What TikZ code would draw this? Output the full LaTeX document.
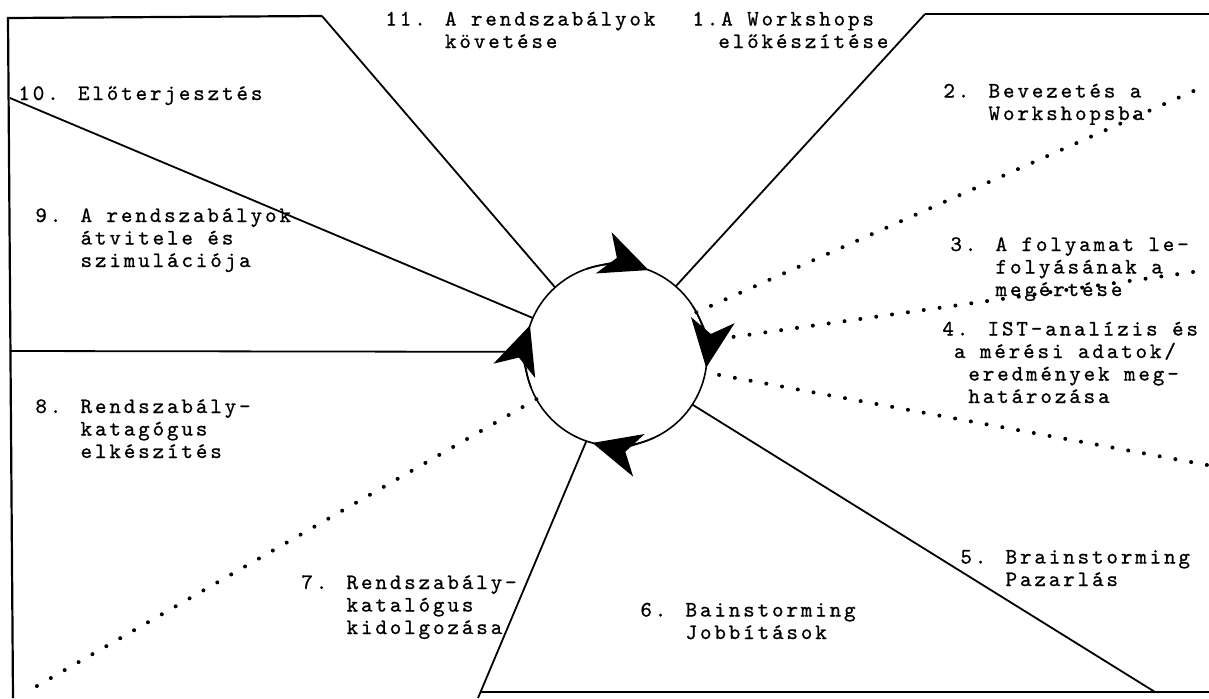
\documentclass[tikz,border=0pt]{standalone}
\usepackage{fontspec}
\usetikzlibrary{arrows.meta}

\newfontfamily\stepfontfam{lmmono10-regular}[Extension=.otf,LetterSpace=13,FakeBold=0.8]
\newcommand{\stepfont}{\stepfontfam\fontsize{11}{11.25}\selectfont}

\begin{document}
\begin{tikzpicture}[x=0.5pt,y=-0.5pt,
  border/.style={line width=1.1pt},
  spoke/.style={line width=0.9pt},
  dotspoke/.style={line width=2pt,line cap=round,dash pattern=on 0pt off 8pt},
  cyclearrow/.style={line width=0.8pt,-{Stealth[length=24pt,width=22pt,inset=7pt]}},
  steptext/.style={anchor=base west,inner sep=0pt,align=left,font=\stepfont}]

\useasboundingbox (0,0) rectangle (1209,698);

% a kor
\node[circle,draw,line width=0.8pt,minimum size=91pt,inner sep=0pt,outer sep=0pt] (hub) at (616,355) {};

% keret
\coordinate (tl) at (8,18);
\coordinate (bl) at (13,698);
\coordinate (t11) at (322,16);
\coordinate (t1) at (925,14);
\coordinate (tr) at (1209,14);
\coordinate (l10) at (10,98);
\coordinate (l9) at (10,351);
\coordinate (r2) at (1207,85);
\coordinate (r3) at (1207,270);
\coordinate (r4) at (1207,465);
\coordinate (b6) at (1155,692);
\coordinate (b7) at (478,698);
\coordinate (b8) at (30,690);
\coordinate (bf) at (481,692);
\coordinate (br) at (1209,692);

\draw[border] (bl) -- (tl) -- (t11);
\draw[border] (t1) -- (tr);
\draw[border] (bf) -- (br);

% vonalak
\draw[spoke] (hub.132) -- (t11);
\draw[spoke] (hub.49) -- (t1);
\draw[spoke] (hub.156) -- (l10);
\draw[spoke,shorten <=9pt] (hub.178) -- (l9);
\draw[spoke] (hub.-33) -- (b6);
\draw[spoke] (hub.-109) -- (b7);

\draw[dotspoke] (hub.28) -- (r2);
\draw[dotspoke,shorten <=14pt] (hub.9) -- (r3);
\draw[dotspoke,shorten <=7pt] (hub.-11) -- (r4);
\draw[dotspoke] (hub.-151) -- (b8);

% nyilak
\foreach \tip in {69,-8,-105,161}{
  \pgfmathtruncatemacro\from{\tip+40}
  \pgfmathtruncatemacro\sa{-(\tip+40)}
  \pgfmathtruncatemacro\ea{-(\tip)}
  \draw[cyclearrow] (hub.\from) arc[start angle=\sa,end angle=\ea,radius=91];
}

% szovegek (base = utolso sor)
\node[steptext] (s11) at (385,48) {11. A rendszabályok\\\phantom{11. }követése};
\node[steptext] (s1) at (692,48) {1.A Workshops\\\phantom{1.}előkészítése};
\node[steptext] (s10) at (18,100) {10. Előterjesztés};
\node[steptext] (s2) at (943,120) {2. Bevezetés a\\\phantom{2. }Workshopsba};
\node[steptext] (s9) at (35,267) {9. A rendszabályok\\\phantom{9. }átvitele és\\\phantom{9. }szimulációja};
\node[steptext] (s3) at (950,296) {3. A folyamat le-\\\phantom{3. }folyásának a\\\phantom{3. }megértése};
\node[steptext] (s4) at (942,403) {4. IST-analízis és\\\phantom{4}a mérési adatok/\\\phantom{4.}eredmények meg-\\\phantom{4.}határozása};
\node[steptext] (s8) at (35,458) {8. Rendszabály-\\\phantom{8. }katagógus\\\phantom{8. }elkészítés};
\node[steptext] (s5) at (960,586) {5. Brainstorming\\\phantom{5. }Pazarlás};
\node[steptext] (s7) at (301,634) {7. Rendszabály-\\\phantom{7. }katalógus\\\phantom{7. }kidolgozása};
\node[steptext] (s6) at (640,639) {6. Bainstorming\\\phantom{6. }Jobbítások};

\end{tikzpicture}
\end{document}
